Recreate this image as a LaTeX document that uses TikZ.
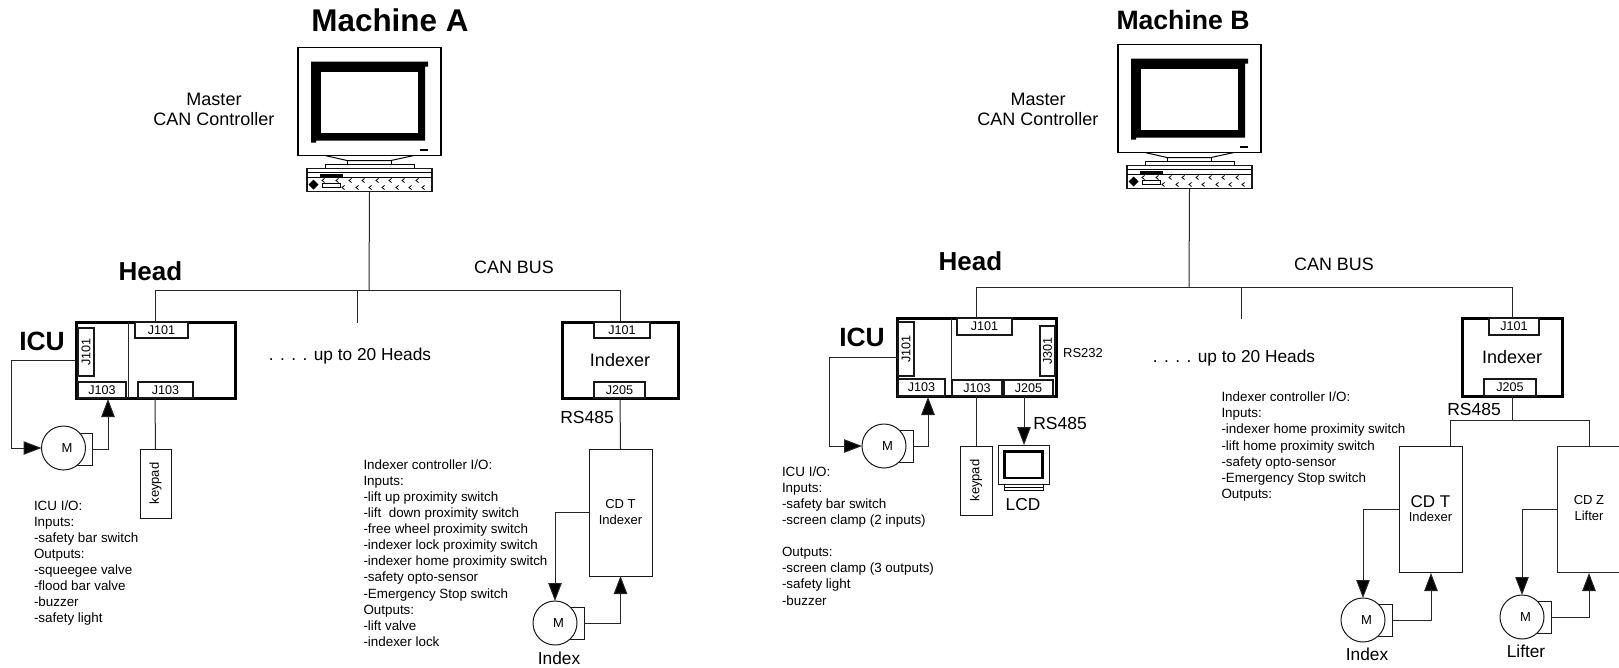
\documentclass[tikz,border=0pt]{standalone}
\usepackage{fontspec}
\usepackage{graphicx}
\setmainfont{Liberation Sans}
\usetikzlibrary{arrows.meta,calc}
\tikzset{
  x=1pt,y=-1pt,
  fs/.style={font=\fontsize{#1pt}{#1pt}\selectfont},
  conn/.style={line width=1pt,draw=black!85},
  arrowline/.style={conn,-{Triangle[length=18pt,width=13.5pt,fill=black]}},
  plainbox/.style={draw=black!90,line width=1pt,fill=white,inner sep=0pt,outer sep=0pt,fs=13,align=center},
  heavybox/.style={draw=black,line width=3pt,fill=white,inner sep=0pt,outer sep=0pt,fs=18,align=center},
  jack/.style={plainbox,line width=1.2pt,fs=12.6},
  soft/.style={plainbox,draw=none,fill=none},
  motor/.style={circle,draw=black!90,line width=1pt,fill=white,minimum size=44pt,inner sep=0pt,outer sep=0pt,fs=13},
  lbl/.style={inner sep=0pt,outer sep=0pt,align=center},
  iotext/.style={inner sep=0pt,outer sep=0pt,anchor=north west,align=left,font=\fontsize{13.4}{16.1pt}\selectfont},
  pics/bigmonitor/.style={code={
    \draw[line width=1.2pt,fill=white] (298,47) rectangle (441,155);
    \fill[black] (311,61) -- (428,61) -- (428,66) -- (425,66) -- (425,140) -- (316,140) -- (316,142) -- (311,142) -- cycle;
    \fill[white] (321,71) rectangle (418,132);
    \fill[black] (420,148) rectangle (428,150.5);
    \draw[line width=1pt] (325,155) -- (347,160) -- (391,160) -- (414,155);
    \draw[line width=1pt] (347,160) -- (347,164) (391,160) -- (391,164);
    \draw[line width=1pt] (325,168) -- (325,164) -- (414,164) -- (414,168);
    \node[plainbox,line width=1.2pt,minimum width=125pt,minimum height=23pt] (kbd) at (369.5,179.5) {};
    \draw[line width=.8pt] (307,172) -- (432,172) (307,177) -- (432,177);
    \fill[black] (320,173) rectangle (343,176);
    \fill[black] (313.5,179) -- (318.5,184) -- (313.5,189) -- (308.5,184) -- cycle;
    \draw[line width=.8pt] (322,183) rectangle (340,187);
    \foreach \cx in {323,337,350,363,377,390,403,417}
      \draw[line width=.8pt] (\cx+1.5,178) -- (\cx-1,180) -- (\cx+1.5,182);
    \foreach \cx in {343,357,370,383,397,410,423}
      \draw[line width=.8pt] (\cx+1.5,185) -- (\cx-1,187) -- (\cx+1.5,189);
  }}
}
\newcommand{\bx}[7][plainbox]{%
  \pgfmathsetmacro\bxw{#5-#3}\pgfmathsetmacro\bxh{#6-#4}%
  \pgfmathsetmacro\bxx{(#5+#3)/2}\pgfmathsetmacro\bxy{(#6+#4)/2}%
  \node[#1,minimum width=\bxw pt,minimum height=\bxh pt] (#2) at (\bxx,\bxy) {#7};}
\newcommand{\mlabel}{\hspace*{7pt}M}
\begin{document}
\begin{tikzpicture}
\useasboundingbox (0,0) rectangle (1619,667);

%% ---------- Machine A ----------
\node[lbl,font=\bfseries\fontsize{31.4pt}{32pt}\selectfont] (aTitle) at (390,20) {Machine A};
\pic (mA) at (0,0.5) {bigmonitor};
\node[lbl,font=\fontsize{18}{20.7pt}\selectfont] (aMaster) at (214,109.5) {Master\\CAN Controller};
\node[lbl,font=\bfseries\fontsize{26pt}{26pt}\selectfont] (aHead) at (150.5,271) {Head};
\node[lbl,fs=17.9] (aCan) at (514,267) {CAN BUS};
\node[lbl,fs=17.3] (aUpto) at (350,356) {. . . . up to 20 Heads};
\node[lbl,font=\bfseries\fontsize{26.4pt}{27pt}\selectfont] (aICUl) at (42,341) {ICU};

\bx[heavybox]{aICU}{76}{322}{235}{398}{}
\coordinate (aDiv) at (128,360);
\draw[conn] (aICU.north -| aDiv) -- (aICU.south -| aDiv);
\bx[jack]{aJt}{135}{322}{188}{338}{J101}
\bx[jack]{aJl}{78}{328}{94}{376}{\rotatebox{90}{J101}}
\bx[jack]{aJa}{78}{382}{126}{398}{J103}
\bx[jack]{aJb}{138}{382}{193}{398}{J103}
\bx[plainbox]{aKey}{140}{449}{171}{518}{\rotatebox{90}{keypad}}
\bx[plainbox]{aMb}{63}{433}{92}{465}{}
\node[motor] (aM) at (63.5,448) {\mlabel};

\bx[heavybox]{aIdx}{562}{322}{678}{398}{Indexer}
\bx[jack]{aIJ1}{594}{322}{650}{338}{J101}
\bx[jack]{aIJ2}{594}{382}{645}{398}{J205}
\bx[plainbox]{aCD}{589}{449}{652}{576}{CD T\\[3pt]Indexer}
\bx[plainbox]{aMcb}{555}{607}{584}{639}{}
\node[motor] (aMc) at (555,623) {\mlabel};
\node[lbl,fs=17.3] (aIndexl) at (559,658) {Index};
\node[lbl,fs=17.5] (aRS) at (587,417) {RS485};

\coordinate (aBusM) at (369,290);
\coordinate (aBusL) at (155,290);
\coordinate (aStubT) at (357,290);
\coordinate (aStubB) at (357,323);
\coordinate (aFb) at (11,360);
\coordinate (aRet) at (108,399);
\coordinate (aKeyT) at (155,398);
\coordinate (aCl) at (555,512);
\draw[conn] (mAkbd.south) -- (aBusM);
\draw[conn] (aICU.north -| aBusL) -- (aBusL) -- (aIdx.north |- aBusL) -- (aIdx.north);
\draw[conn] (aStubT) -- (aStubB);
\draw[arrowline] (aICU.west |- aFb) -- (aFb) |- (aM.west);
\draw[arrowline] (aMb.east) -| (aRet);
\draw[conn] (aKeyT) -- (aKey.north);
\draw[conn] (aIdx.south) -- (aCD.north);
\draw[arrowline] (aCD.west |- aCl) -- (aCl) -- (aMc.north);
\draw[arrowline] (aMcb.east) -| (aCD.south);

\node[iotext] (aIOa) at (34,500.5) {ICU I/O:\\Inputs:\\-safety bar switch\\Outputs:\\-squeegee valve\\-flood bar valve\\-buzzer\\-safety light};
\node[iotext] (aIOb) at (363.5,459.5) {Indexer controller I/O:\\Inputs:\\-lift up proximity switch\\-lift\ \ down proximity switch\\-free wheel proximity switch\\-indexer lock proximity switch\\-indexer home proximity switch\\-safety opto-sensor\\-Emergency Stop switch\\Outputs:\\-lift valve\\-indexer lock};

%% ---------- Machine B ----------
\node[lbl,font=\bfseries\fontsize{26.6pt}{27pt}\selectfont] (bTitle) at (1183,19.5) {Machine B};
\pic (mB) at (820,-2.5) {bigmonitor};
\node[lbl,font=\fontsize{18}{20.7pt}\selectfont] (bMaster) at (1038,109.5) {Master\\CAN Controller};
\node[lbl,font=\bfseries\fontsize{26pt}{26pt}\selectfont] (bHead) at (970.5,261) {Head};
\node[lbl,fs=17.9] (bCan) at (1334,264) {CAN BUS};
\node[lbl,fs=17.3] (bUpto) at (1234,358) {. . . . up to 20 Heads};
\node[lbl,font=\bfseries\fontsize{26.4pt}{27pt}\selectfont] (bICUl) at (862,337) {ICU};
\node[lbl,fs=13] (bRS232) at (1083,353) {RS232};

\bx[heavybox]{bICU}{897}{318}{1056}{396}{}
\coordinate (bDiv) at (951,357);
\draw[conn] (bICU.north -| bDiv) -- (bICU.south -| bDiv);
\bx[jack]{bJt}{957}{318}{1012}{335}{J101}
\bx[jack]{bJl}{898}{322}{914}{376}{\rotatebox{90}{J101}}
\bx[jack]{bJr}{1040}{326}{1055}{376}{\rotatebox{90}{J301}}
\bx[jack]{bJa}{898}{379}{945}{396}{J103}
\bx[jack]{bJb}{952}{380}{1002}{396}{J103}
\bx[jack]{bJc}{1004}{380}{1053}{396}{J205}
\bx[plainbox]{bKey}{960}{446}{992}{515}{\rotatebox{90}{keypad}}
\bx[plainbox]{bMb}{884}{430}{913}{462}{}
\node[motor] (bM) at (884,446) {\mlabel};

% LCD monitor
\bx[plainbox]{bLcd}{998}{445}{1049}{484}{}
\fill[black] (1003,450) rectangle (1044,479);
\fill[white] (1006,453) rectangle (1041,477);
\draw[line width=.8pt] (1004,484) -- (1004,490) -- (1043,490) -- (1043,484);
\draw[line width=.8pt] (1004,487) -- (1043,487);
\node[lbl,fs=17.3] (bLcdl) at (1023,505) {LCD};
\node[lbl,fs=17.5] (bRSa) at (1060,423) {RS485};

\bx[heavybox]{bIdx}{1462}{318}{1562}{396}{Indexer}
\bx[jack]{bIJ1}{1489}{318}{1539}{335}{J101}
\bx[jack]{bIJ2}{1484}{379}{1536}{396}{J205}
\node[lbl,fs=17.5] (bRSb) at (1474,409) {RS485};
\bx[plainbox]{bCDT}{1399}{446}{1462}{572}{{\fontsize{17pt}{19pt}\selectfont CD T}\\[1pt]Indexer}
\bx[soft]{bCDZ}{1557}{446}{1619}{572}{}
\draw[conn] (bCDZ.north east) -- (bCDZ.north west) -- (bCDZ.south west) -- (bCDZ.south east);
\node[lbl,font=\fontsize{13}{16pt}\selectfont] (bCDZl) at (1589,508) {CD Z\\Lifter};
\bx[plainbox]{bMtb}{1363}{604}{1392}{636}{}
\node[motor] (bMt) at (1363,620) {\mlabel};
\bx[plainbox]{bMzb}{1522}{601}{1551}{633}{}
\node[motor] (bMz) at (1522,617) {\mlabel};
\node[lbl,fs=17.3] (bIndexl) at (1367,654.5) {Index};
\node[lbl,fs=17.3] (bLifterl) at (1526,651) {Lifter};

\coordinate (bBusM) at (1189,287);
\coordinate (bBusL) at (976,287);
\coordinate (bStubT) at (1241,287);
\coordinate (bStubB) at (1241,319);
\coordinate (bFb) at (829,357);
\coordinate (bRet) at (928,397);
\coordinate (bKeyT) at (976,396);
\coordinate (bLcdT) at (1024,396);
\coordinate (bSplit) at (1512,420);
\coordinate (bSplitL) at (1450,420);
\coordinate (bSplitR) at (1589,420);
\coordinate (bCt) at (1363,509);
\coordinate (bCz) at (1522,509);
\coordinate (bUpT) at (1431,573);
\coordinate (bUpZ) at (1589,573);
\draw[conn] (mBkbd.south) -- (bBusM);
\draw[conn] (bICU.north -| bBusL) -- (bBusL) -- (bIdx.north |- bBusL) -- (bIdx.north);
\draw[conn] (bStubT) -- (bStubB);
\draw[arrowline] (bICU.west |- bFb) -- (bFb) |- (bM.west);
\draw[arrowline] (bMb.east) -| (bRet);
\draw[conn] (bKeyT) -- (bKey.north);
\draw[arrowline] (bLcdT) -- (bLcdT |- bLcd.north);
\draw[conn] (bIdx.south) -- (bSplit);
\draw[conn] (bCDT.north -| bSplitL) -- (bSplitL) -- (bSplitR) -- (bCDZ.north -| bSplitR);
\draw[arrowline] (bCDT.west |- bCt) -- (bCt) -- (bMt.north);
\draw[arrowline] (bMtb.east) -| (bUpT);
\draw[arrowline] (bCDZ.west |- bCz) -- (bCz) -- (bMz.north);
\draw[arrowline] (bMzb.east) -| (bUpZ);

\node[iotext] (bIOa) at (782,466.5) {ICU I/O:\\Inputs:\\-safety bar switch\\-screen clamp (2 inputs)\\[16.1pt]Outputs:\\-screen clamp (3 outputs)\\-safety light\\-buzzer};
\node[iotext] (bIOb) at (1221.5,392) {Indexer controller I/O:\\Inputs:\\-indexer home proximity switch\\-lift home proximity switch\\-safety opto-sensor\\-Emergency Stop switch\\Outputs:};
\end{tikzpicture}
\end{document}
